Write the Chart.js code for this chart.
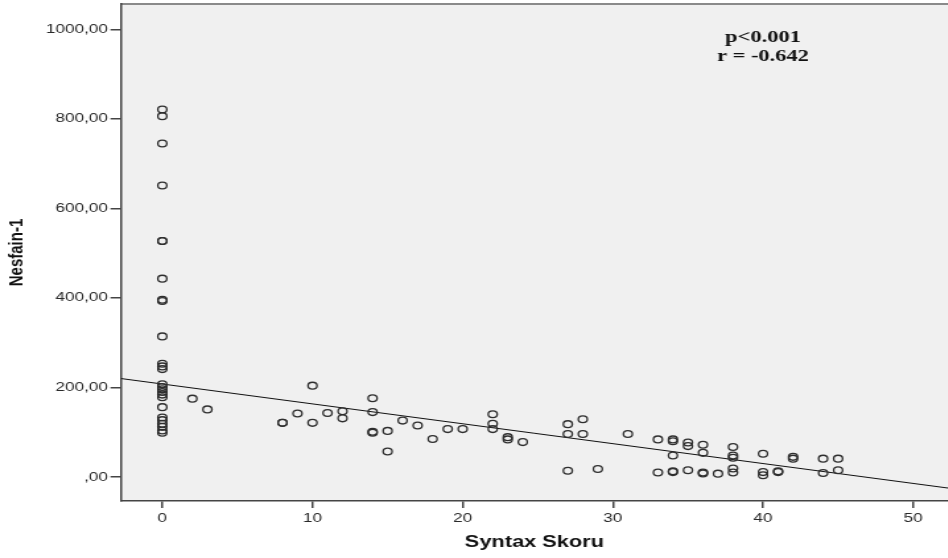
<!DOCTYPE html>
<html>
<head>
<meta charset="utf-8">
<script src="https://cdn.jsdelivr.net/npm/chart.js@4.4.1/dist/chart.umd.min.js"></script>
<style>
  html, body { margin: 0; padding: 0; background: #fff; overflow: hidden; }
  /* the reference image is stretched sideways, so the whole chart is too */
  #wrap { width: 718px; height: 558px; transform: scaleX(1.32); transform-origin: 0 0; }
</style>
</head>
<body>
<div id="wrap"><canvas id="scatter" width="718" height="558"></canvas></div>
<script>
// Syntax Skoru (x) against Nesfain-1 (y), one entry per patient
const syntaxScore = [
  0, 0, 0, 0, 0, 0, 0, 0, 0, 0, 0, 0, 0, 0, 0, 0, 0, 0, 0, 0, 0, 0, 0, 0, 0, 0,
  2, 3, 8, 8, 9, 10, 10, 11, 12, 12, 14, 14, 14, 14, 15, 15, 16, 17, 18, 19, 20,
  22, 22, 22, 23, 23, 24, 27, 27, 27, 28, 28, 29, 31, 33, 33,
  34, 34, 34, 34, 34, 35, 35, 35, 36, 36, 36, 36, 37,
  38, 38, 38, 38, 38, 40, 40, 40, 41, 41, 42, 42, 44, 44, 45, 45
];
const nesfatin = [
  821, 806, 745, 651, 527, 527, 443, 396, 393, 314, 253, 247, 241, 207, 201, 196, 190, 184, 178, 156, 133, 127, 119, 112, 104, 99,
  175, 151, 121, 121, 142, 204, 121, 143, 147, 131, 176, 145, 101, 99, 103, 57, 126, 115, 85, 107, 107,
  140, 119, 107, 89, 84, 78, 118, 96, 14, 129, 96, 18, 96, 84, 10,
  84, 80, 48, 13, 11, 77, 69, 15, 72, 54, 10, 8, 7.5,
  67, 48, 43, 19, 10, 52, 11, 4, 13, 11, 45, 41, 41, 9, 41, 15
];

// fit line end points, read where it leaves the plot frame
const fitX = [-2.75, 52.3];
const fitY = [219.9, -24.6];

const xTicks = [0, 10, 20, 30, 40, 50];
const yTicks = [0, 200, 400, 600, 800, 1000];
const statLines = ['p<0.001', 'r = -0.642'];

const points = syntaxScore.map((x, i) => ({ x: x, y: nesfatin[i] }));
const fitPoints = fitX.map((x, i) => ({ x: x, y: fitY[i] }));

const frame = {
  id: 'frame',
  beforeDraw(chart) {
    const { ctx, chartArea: a } = chart;
    ctx.save();
    ctx.fillStyle = '#f0f0f0';
    ctx.fillRect(a.left, a.top, a.right - a.left, a.bottom - a.top);
    ctx.strokeStyle = '#8a8a8a';
    ctx.lineWidth = 2;
    ctx.beginPath();
    ctx.moveTo(a.left, a.top);
    ctx.lineTo(a.right, a.top);
    ctx.stroke();
    ctx.restore();
  },
  afterDraw(chart) {
    const { ctx } = chart;
    ctx.save();
    ctx.fillStyle = '#111';
    ctx.font = 'bold 17px "Liberation Serif", "Times New Roman", serif';
    ctx.textAlign = 'center';
    ctx.textBaseline = 'middle';
    ctx.fillText(statLines[0], 578, 38);
    ctx.fillText(statLines[1], 578, 57);
    ctx.restore();
  }
};

new Chart(document.getElementById('scatter').getContext('2d'), {
  type: 'scatter',
  data: {
    datasets: [
      {
        data: points,
        pointStyle: 'circle',
        pointRadius: 3.4,
        pointBorderWidth: 1.3,
        borderColor: '#2e2e2e',
        backgroundColor: 'rgba(0,0,0,0)'
      },
      {
        type: 'line',
        data: fitPoints,
        borderColor: '#111',
        borderWidth: 1,
        pointRadius: 0,
        fill: false
      }
    ]
  },
  options: {
    responsive: false,
    animation: false,
    layout: { autoPadding: false, padding: { top: 4, right: 0, bottom: 0, left: 0 } },
    plugins: { legend: { display: false }, tooltip: { enabled: false } },
    scales: {
      x: {
        type: 'linear',
        min: -2.75,
        max: 52.3,
        afterBuildTicks: (scale) => { scale.ticks = xTicks.map(v => ({ value: v })); },
        afterFit: (scale) => { scale.height = 57; scale.paddingLeft = 0; scale.paddingRight = 0; },
        grid: { drawOnChartArea: false, drawTicks: true, tickLength: 7, color: '#444', lineWidth: 1.5 },
        border: { display: true, color: '#444', width: 1.5 },
        ticks: {
          padding: 3,
          color: '#2a2a2a',
          font: { family: '"Liberation Sans", Arial, sans-serif', size: 13 },
          callback: (v) => String(v)
        },
        title: {
          display: true,
          text: 'Syntax Skoru',
          color: '#111',
          padding: { top: 4, bottom: 6 },
          font: { family: '"Liberation Sans", Arial, sans-serif', size: 16.5, weight: 'bold' }
        }
      },
      y: {
        min: -53.6,
        max: 1056.5,
        afterBuildTicks: (scale) => { scale.ticks = yTicks.map(v => ({ value: v })); },
        afterFit: (scale) => { scale.width = 91.7; scale.paddingTop = 0; scale.paddingBottom = 0; },
        grid: { drawOnChartArea: false, drawTicks: true, tickLength: 8, color: '#444', lineWidth: 1.5 },
        border: { display: true, color: '#444', width: 1.5 },
        ticks: {
          padding: 2,
          color: '#2a2a2a',
          font: { family: '"Liberation Sans", Arial, sans-serif', size: 13 },
          callback: (v) => v === 0 ? ',00' : v.toFixed(2).replace('.', ',')
        },
        title: {
          display: true,
          text: 'Nesfain-1',
          color: '#111',
          padding: { top: 4, bottom: 0 },
          font: { family: '"Liberation Sans", Arial, sans-serif', size: 15, weight: 'bold' }
        }
      }
    }
  },
  plugins: [frame]
});
</script>
</body>
</html>
